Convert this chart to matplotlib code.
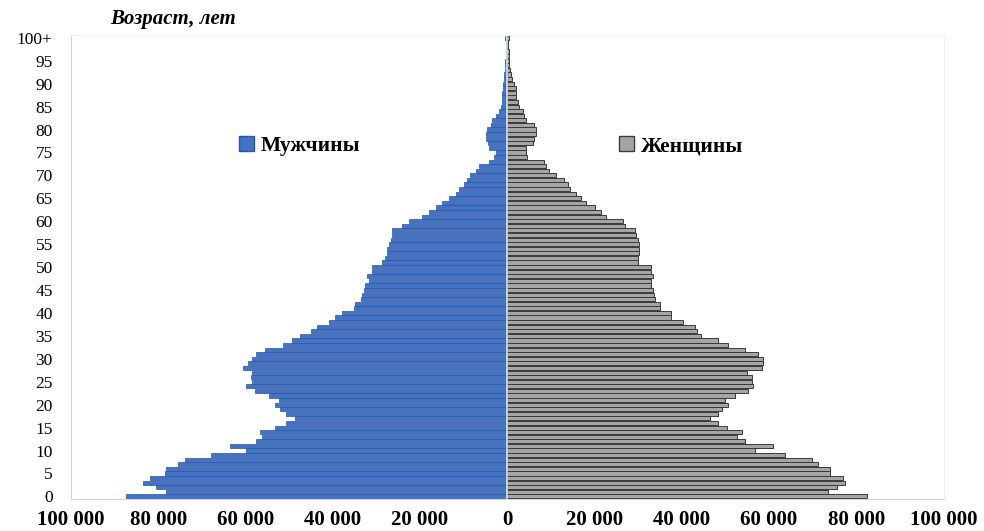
import matplotlib.pyplot as plt
from matplotlib.patches import Patch

# population by single year of age, 0..100+
ages = list(range(101))
men = [87.3, 78.1, 80.4, 83.4, 81.9, 78.5, 78.1, 75.4, 73.9, 67.8,
       59.8, 63.5, 57.5, 56.3, 56.6, 53.2, 50.6, 48.6, 50.6, 52.0,
       53.2, 52.4, 54.7, 57.8, 59.8, 58.6, 58.7, 58.6, 60.5, 59.3,
       58.6, 57.5, 55.5, 51.3, 49.4, 47.5, 45.0, 43.7, 40.9, 39.4,
       37.9, 35.2, 34.8, 33.6, 33.3, 32.9, 32.5, 31.7, 32.2, 31.0,
       31.0, 28.7, 27.9, 27.6, 27.6, 27.1, 26.7, 26.4, 26.4, 24.1,
       22.5, 19.5, 17.9, 16.4, 14.9, 13.3, 11.8, 11.0, 9.9, 9.2,
       8.5, 7.2, 6.4, 4.1, 3.0, 2.6, 4.1, 4.5, 4.8, 4.8,
       4.6, 3.8, 3.4, 2.6, 1.8, 1.5, 1.2, 1.2, 1.1, 0.9,
       0.9, 0.8, 0.7, 0.6, 0.5, 0.5, 0.4, 0.3, 0.3, 0.2,
       0.5]
women = [82.5, 73.6, 75.6, 77.5, 76.9, 74.0, 74.0, 71.3, 69.8, 63.7,
         56.8, 61.0, 54.5, 52.6, 53.9, 50.3, 48.4, 46.4, 48.3, 49.1,
         50.5, 49.9, 52.2, 55.2, 56.3, 56.0, 56.0, 54.9, 58.3, 58.6,
         58.6, 57.4, 54.5, 50.6, 48.3, 44.5, 43.5, 43.0, 40.3, 37.6,
         37.6, 34.9, 34.9, 33.8, 33.6, 33.3, 33.0, 33.0, 33.3, 33.0,
         33.0, 30.0, 30.0, 30.3, 30.3, 30.3, 30.0, 29.6, 29.2, 26.9,
         26.5, 22.7, 21.5, 20.0, 18.1, 16.9, 15.8, 14.3, 13.9, 13.1,
         11.2, 9.5, 8.9, 8.5, 4.6, 4.3, 4.3, 5.8, 6.2, 6.6,
         6.6, 6.2, 4.3, 3.9, 3.5, 2.8, 2.4, 2.1, 2.1, 2.0,
         1.6, 1.2, 0.8, 0.6, 0.5, 0.4, 0.3, 0.3, 0.2, 0.2,
         0.5]
men = [-v * 1000 for v in men]
women = [v * 1000 for v in women]

y_ticks = list(range(0, 101, 5))
y_labels = [str(t) for t in y_ticks[:-1]] + ["100+"]
x_ticks = [-100000, -80000, -60000, -40000, -20000, 0, 20000, 40000, 60000, 80000, 100000]
x_labels = ["100 000", "80 000", "60 000", "40 000", "20 000", "0",
            "20 000", "40 000", "60 000", "80 000", "100 000"]

plt.rcParams['font.family'] = ['Liberation Serif', 'DejaVu Serif']

fig = plt.figure(figsize=(9.84, 5.31), dpi=100)
ax = fig.add_axes([0.072, 0.06, 0.887, 0.874])

ax.barh(ages, men, height=0.9, color='#4472C4', edgecolor='#2F5597', linewidth=0.5)
ax.barh(ages, women, height=0.9, color='#A5A5A5', edgecolor='#3A3A3A', linewidth=0.7)
ax.axvline(0, color='#DCE6F2', linewidth=1.2)

ax.set_xlim(-100000, 100000)
ax.set_ylim(-0.6, 100.6)
ax.set_xticks(x_ticks)
ax.set_xticklabels(x_labels, fontsize=15, fontweight='bold')
ax.set_yticks(y_ticks)
ax.set_yticklabels(y_labels, fontsize=12.5)
ax.tick_params(axis='both', length=0)
ax.tick_params(axis='x', pad=8)
ax.tick_params(axis='y', pad=13)

for side in ['left', 'bottom']:
    ax.spines[side].set_color('#C9D4E6')
for side in ['top', 'right']:
    ax.spines[side].set_color('#F2F2F2')

leg_font = {'size': 15.5, 'weight': 'bold'}
leg1 = ax.legend(handles=[Patch(facecolor='#4472C4', edgecolor='#2F5597')], labels=['Мужчины'],
                 loc='center left', bbox_to_anchor=(0.193, 0.76), frameon=False,
                 prop=leg_font, handlelength=0.7, handleheight=0.7,
                 handletextpad=0.3, borderpad=0, borderaxespad=0)
ax.add_artist(leg1)
ax.legend(handles=[Patch(facecolor='#A5A5A5', edgecolor='#3A3A3A')], labels=['Женщины'],
          loc='center left', bbox_to_anchor=(0.628, 0.76), frameon=False,
          prop=leg_font, handlelength=0.7, handleheight=0.7,
          handletextpad=0.3, borderpad=0, borderaxespad=0)

fig.text(0.112, 0.965, "Возраст, лет", fontsize=15, fontweight='bold', fontstyle='italic',
         va='center', ha='left')

fig.savefig("out.png", dpi=100)
